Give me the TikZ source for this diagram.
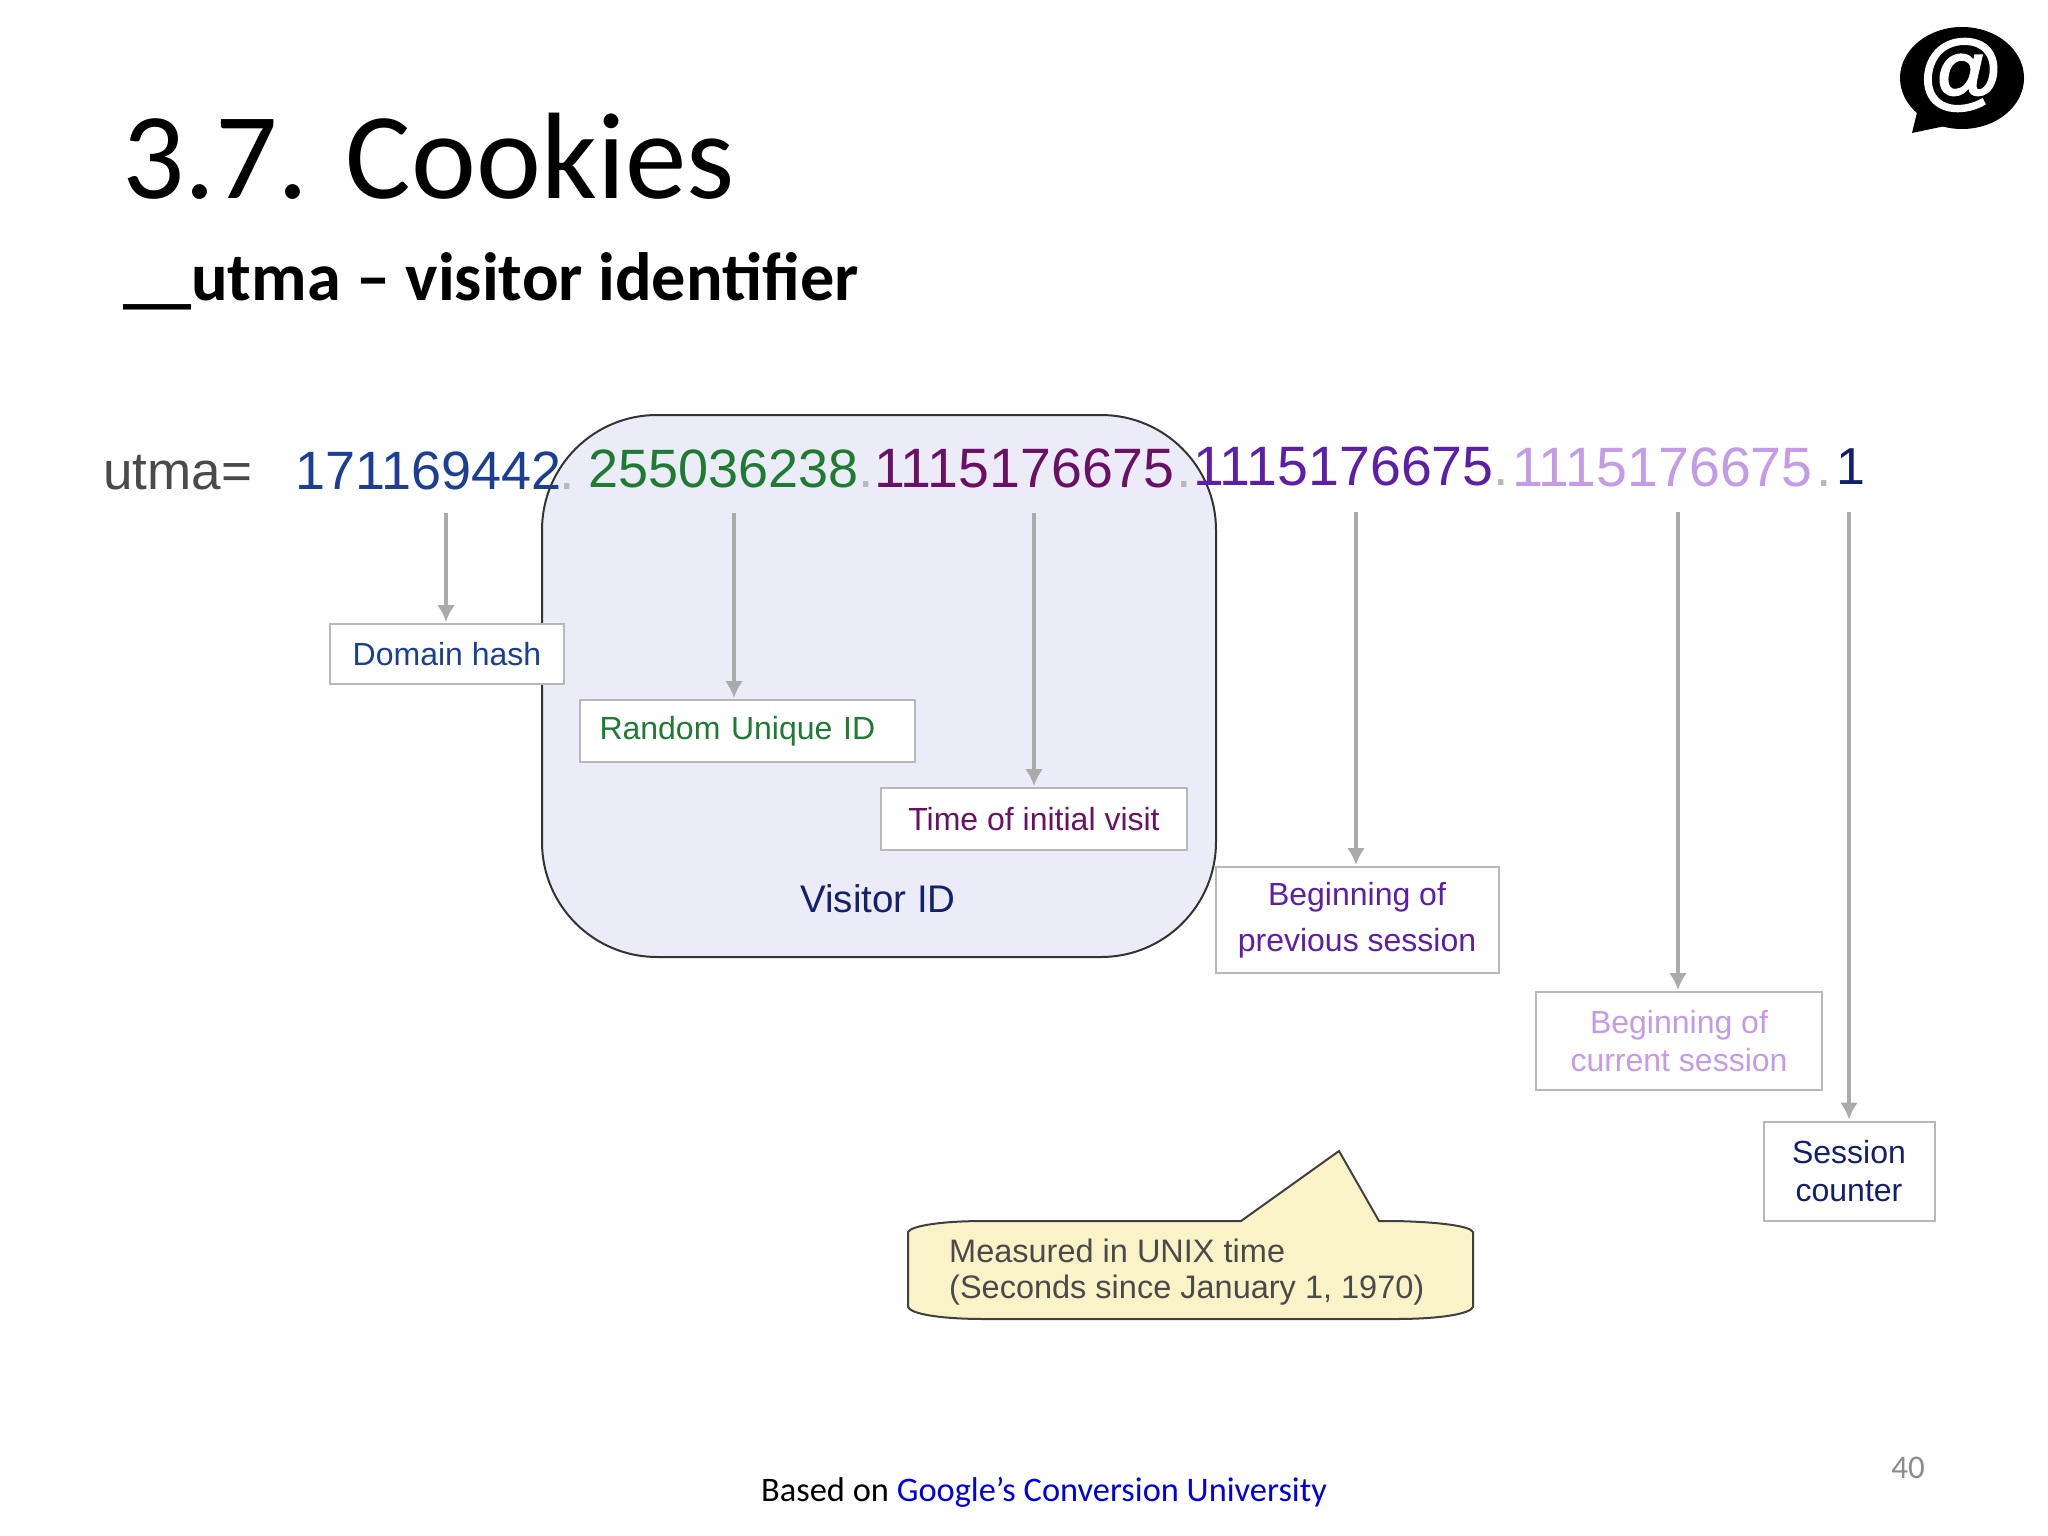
\documentclass[tikz,border=0pt]{standalone}
\usepackage{fontspec}
\setmainfont{Carlito}
\newfontfamily\arialfont{Liberation Sans}
\newfontfamily\iconfont[FakeBold=2.5]{Liberation Sans}
\usetikzlibrary{arrows.meta}
\newcommand*{\Fs}[1]{\fontsize{#1}{#1}\selectfont}
\definecolor{WHITE}{HTML}{FFFFFF}
\definecolor{BLACK}{HTML}{000000}
\definecolor{UTMA}{HTML}{4A4A4A}
\definecolor{DOMAIN}{HTML}{1C3F94}
\definecolor{RANDOM}{HTML}{1F7A32}
\definecolor{INITIAL}{HTML}{6A1065}
\definecolor{PREVIOUS}{HTML}{5E1FA8}
\definecolor{CURRENT}{HTML}{C39BE6}
\definecolor{COUNTER}{HTML}{14206E}
\definecolor{DOT}{HTML}{B8B8B8}
\definecolor{ARROW}{HTML}{ABABAB}
\definecolor{VISITOR}{HTML}{ECECF8}
\definecolor{CALLOUT}{HTML}{FBF3C8}
\definecolor{LINK}{HTML}{0000E0}
\tikzset{
    number/.style={font=\arialfont\Fs{55.5}, inner sep=0pt, anchor=base west},
    labelbox/.style={draw=DOT, line width=2pt, fill=WHITE, font=\arialfont\Fs{32}, align=center, inner sep=0pt},
    pointer/.style={draw=ARROW, line width=4.5pt, -{Latex[length=17pt,width=18pt]}, shorten >=1pt},
}
\begin{document}
\begin{tikzpicture}[x=1pt, y=-1pt]
    \useasboundingbox[fill=WHITE] (0,0) rectangle (2048,1536);
    % Title
    \node[font=\Fs{123}, anchor=base west, inner sep=0pt] (title) at (122,198) {3.7. Cookies};
    \node[font=\bfseries\Fs{68.3}, anchor=base west, inner sep=0pt] (subtitle) at (123,300) {\_\_utma -- visitor identifier};
    % Icon
    \fill[BLACK] (1912,133) -- (1920,100) -- (1950,125) -- cycle;
    \fill[BLACK] (1962,78) ellipse (62 and 51);
    \node[text=WHITE, font=\iconfont\Fs{84}, inner sep=0pt] (at) at (1961,75) {@};
    % Visitor box
    \draw[fill=VISITOR, draw=black!80, line width=2pt, rounded corners=115pt] (542,415) rectangle (1216,957);
    \node[text=COUNTER, font=\arialfont\Fs{38.5}] (visitor) at (878,899) {Visitor ID};
    % Numbers
    \node[text=UTMA, number, font=\arialfont\Fs{53}] (utma) at (103,489) {utma=};
    \node[text=DOMAIN, number, font=\arialfont\Fs{54}] (n1) at (295,489) {171169442};
    \node[text=DOT, number] (d1) at (559,489) {.};
    \node[text=RANDOM, number, font=\arialfont\Fs{54}] (n2) at (588,487) {255036238};
    \node[text=DOT, number] (d2) at (858,487) {.};
    \node[text=INITIAL, number] (n3) at (874,487) {1115176675};
    \node[text=DOT, number] (d3) at (1176,487) {.};
    \node[text=PREVIOUS, number] (n4) at (1193,485) {1115176675};
    \node[text=DOT, number] (d4) at (1493,485) {.};
    \node[text=CURRENT, number] (n5) at (1512,486) {1115176675};
    \node[text=DOT, number] (d5) at (1816,486) {.};
    \node[text=COUNTER, number, font=\arialfont\Fs{52}] (n6) at (1836,484) {1};
    % Label boxes
    \node[labelbox, text=DOMAIN, minimum width=234pt, minimum height=60pt] (domain) at (447,654) {Domain hash};
    \node[labelbox, text=RANDOM, minimum width=335pt, minimum height=62pt, text width=295pt, align=left] (random) at (747,731) {Random Unique ID};
    \node[labelbox, text=INITIAL, minimum width=306pt, minimum height=62pt] (initial) at (1034,819) {Time of initial visit};
    \node[labelbox, text=PREVIOUS, minimum width=283pt, minimum height=106pt] (previous) at (1357,920) {Beginning of\\[14pt]previous session};
    \node[labelbox, text=CURRENT, minimum width=286pt, minimum height=98pt] (current) at (1679,1041) {Beginning of\\[6pt]current session};
    \node[labelbox, text=COUNTER, minimum width=171pt, minimum height=99pt] (counter) at (1849,1171) {Session\\[6pt]counter};
    % Arrows
    \coordinate (s1) at (446,513);
    \coordinate (s2) at (734,513);
    \coordinate (s3) at (1034,513);
    \coordinate (s4) at (1356,512);
    \coordinate (s5) at (1678,512);
    \coordinate (s6) at (1849,512);
    \draw[pointer] (s1) -- (domain.north -| s1);
    \draw[pointer] (s2) -- (random.north -| s2);
    \draw[pointer] (s3) -- (initial.north -| s3);
    \draw[pointer] (s4) -- (previous.north -| s4);
    \draw[pointer] (s5) -- (current.north -| s5);
    \draw[pointer] (s6) -- (counter.north -| s6);
    % Callout
    \draw[fill=CALLOUT, draw=black!75, line width=2pt] (1241,1221) -- (1339,1151) -- (1379,1221)
        -- (1395,1221) .. controls (1440,1222) and (1470,1226) .. (1473,1232)
        -- (1473,1307) .. controls (1470,1314) and (1440,1319) .. (1395,1319)
        -- (985,1319) .. controls (940,1319) and (911,1314) .. (908,1307)
        -- (908,1232) .. controls (911,1226) and (940,1221) .. (985,1221) -- cycle;
    \node[text=UTMA, font=\arialfont\Fs{32.5}, align=left, anchor=north west, inner sep=0pt] (unix) at (949,1239) {Measured in UNIX time\\[3pt](Seconds since January 1, 1970)};
    % Footer
    \node[font=\Fs{34.4}, anchor=base west, inner sep=0pt] (source) at (761,1501) {Based on \textcolor{LINK}{Google’s Conversion University}};
    \node[text=black!45, font=\Fs{33}, anchor=base east, inner sep=0pt] (page) at (1925,1478) {40};
\end{tikzpicture}
\end{document}
